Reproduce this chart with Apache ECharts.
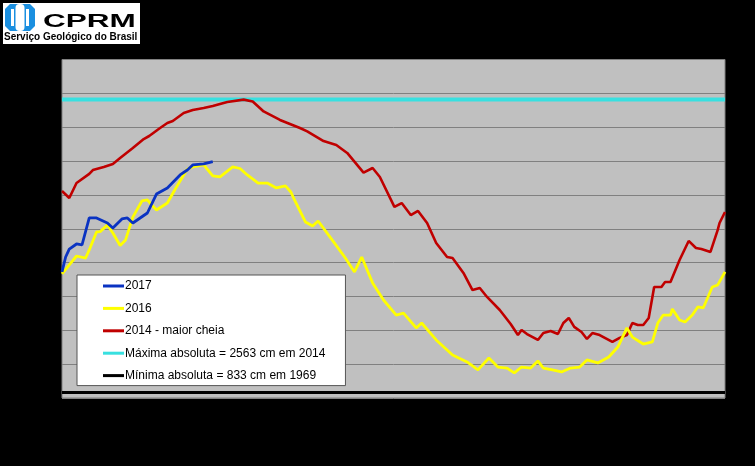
<!DOCTYPE html>
<html><head><meta charset="utf-8">
<script src="https://cdn.jsdelivr.net/npm/echarts@6/dist/echarts.min.js"></script>
<style>html,body{margin:0;padding:0;background:#000}#c{width:755px;height:466px}</style>
</head><body><div id="c"></div>
<script>
// day of year (0..365) and level in cm
const blueDays = [0,2,4,8,11,15,19,25,28,29,33,36,39,47,52,58,65,69,72,78,83];
const blueVals = [1545,1633,1680,1710,1704,1864,1864,1834,1804,1793,1858,1864,1834,1893,2005,2041,2118,2147,2177,2183,2197];

const yellowDays = [0,4,8,13,15,19,21,25,28,32,35,39,44,47,52,58,63,69,72,78,83,87,94,98,102,108,113,118,123,126,128,134,138,141,148,156,161,165,171,177,184,188,195,198,206,215,223,229,235,240,245,249,253,258,262,265,270,275,280,285,289,295,301,306,311,314,320,325,328,331,335,336,340,343,347,350,353,358,361,365];
const yellowVals = [1533,1586,1639,1627,1675,1781,1783,1822,1775,1701,1734,1869,1964,1970,1911,1952,2047,2153,2165,2177,2112,2106,2165,2156,2118,2070,2070,2041,2053,2017,1970,1840,1816,1846,1745,1627,1545,1633,1480,1379,1290,1302,1214,1243,1143,1054,1013,966,1036,983,977,948,983,977,1019,977,966,954,977,983,1025,1007,1042,1101,1214,1160,1119,1131,1243,1290,1290,1326,1261,1249,1290,1338,1332,1456,1468,1545];

const redDays = [0,4,8,15,17,23,28,32,39,45,48,54,58,61,67,72,78,83,91,100,105,111,120,131,135,144,151,157,166,171,175,183,187,192,196,201,206,212,215,221,226,230,234,241,247,251,253,256,262,265,269,273,276,279,282,286,289,292,296,303,307,311,314,317,320,323,326,330,332,335,340,345,349,352,357,361,362,365];
const redVals = [2023,1982,2070,2124,2147,2165,2183,2218,2277,2330,2348,2395,2425,2437,2484,2502,2513,2525,2549,2563,2552,2493,2443,2395,2375,2318,2295,2248,2132,2159,2106,1929,1952,1881,1905,1834,1716,1633,1627,1539,1438,1450,1397,1320,1237,1172,1202,1178,1143,1184,1196,1178,1243,1273,1220,1190,1149,1184,1172,1131,1155,1172,1243,1231,1231,1273,1456,1456,1485,1485,1615,1728,1686,1680,1663,1793,1834,1899];

const maxDays = [0,365];
const maxVals = [2563,2563];
const minDays = [0,365];
const minVals = [833,833];

const names = ['2017','2016','2014 - maior cheia','Máxima absoluta = 2563 cm em 2014','Mínima absoluta = 833 cm em 1969'];
const colors = ['#0a33c2','#ffff00','#c00000','#38e0e0','#000000'];

const zip = (d, v) => d.map((x, i) => [x, v[i]]);

const chart = echarts.init(document.getElementById('c'), null, {renderer: 'canvas'});
chart.setOption({
  backgroundColor: '#000',
  animation: false,
  grid: {left: 62, right: 30, top: 59.5, bottom: 68, show: true, backgroundColor: '#c0c0c0', borderColor: '#808080', borderWidth: 1},
  xAxis: {type: 'value', min: 0, max: 365, axisLabel: {show: false}, axisTick: {show: false}, axisLine: {show: false}, splitLine: {show: false}},
  yAxis: {type: 'value', min: 800, max: 2800, interval: 200, axisLabel: {show: false}, axisTick: {show: false}, axisLine: {show: false},
    splitLine: {lineStyle: {color: '#808080', width: 1}}},
  legend: {
    data: names, orient: 'vertical', left: 77, top: 275,
    backgroundColor: '#ffffff', borderColor: '#555', borderWidth: 1, borderRadius: 0,
    padding: [4, 20, 3, 26], itemGap: 8.4, itemWidth: 21, itemHeight: 3, icon: 'rect',
    textStyle: {color: '#000', fontFamily: 'Liberation Sans, Arial', fontSize: 12, lineHeight: 14, padding: [0, 0, 0, -4]}
  },
  graphic: [
    {type: 'rect', shape: {x: 3, y: 3, width: 137, height: 41}, style: {fill: '#fff'}},
    {type: 'polygon', shape: {points: [[5,9],[10,4],[30,4],[35,9],[35,26],[30,31],[10,31],[5,26]]}, style: {fill: '#1a8fe0'}},
    {type: 'rect', shape: {x: 15.5, y: 4, width: 9, height: 27, r: 4}, style: {fill: '#fff'}},
    {type: 'rect', shape: {x: 11, y: 9, width: 3, height: 17}, style: {fill: '#fff'}},
    {type: 'rect', shape: {x: 26, y: 9, width: 3, height: 17}, style: {fill: '#fff'}},
    {type: 'text', x: 43, y: 13, scaleX: 1.75, style: {text: 'CPRM', fill: '#000', font: 'bold 18px "Liberation Sans", Arial'}},
    {type: 'text', x: 4, y: 32, style: {text: 'Serviço Geológico do Brasil', fill: '#000', font: 'bold 10px "Liberation Sans", Arial'}}
  ],
  series: [
    {name: names[3], type: 'line', data: zip(maxDays, maxVals), symbol: 'none', color: colors[3], lineStyle: {width: 4, color: colors[3]}, z: 1},
    {name: names[4], type: 'line', data: zip(minDays, minVals), symbol: 'none', color: colors[4], lineStyle: {width: 3, color: colors[4]}, z: 1},
    {name: names[2], type: 'line', data: zip(redDays, redVals), symbol: 'none', color: colors[2], lineStyle: {width: 2.6, color: colors[2]}, z: 2},
    {name: names[1], type: 'line', data: zip(yellowDays, yellowVals), symbol: 'none', color: colors[1], lineStyle: {width: 2.8, color: colors[1]}, z: 3},
    {name: names[0], type: 'line', data: zip(blueDays, blueVals), symbol: 'none', color: colors[0], lineStyle: {width: 2.8, color: colors[0]}, z: 4}
  ]
});
</script>
</body></html>
